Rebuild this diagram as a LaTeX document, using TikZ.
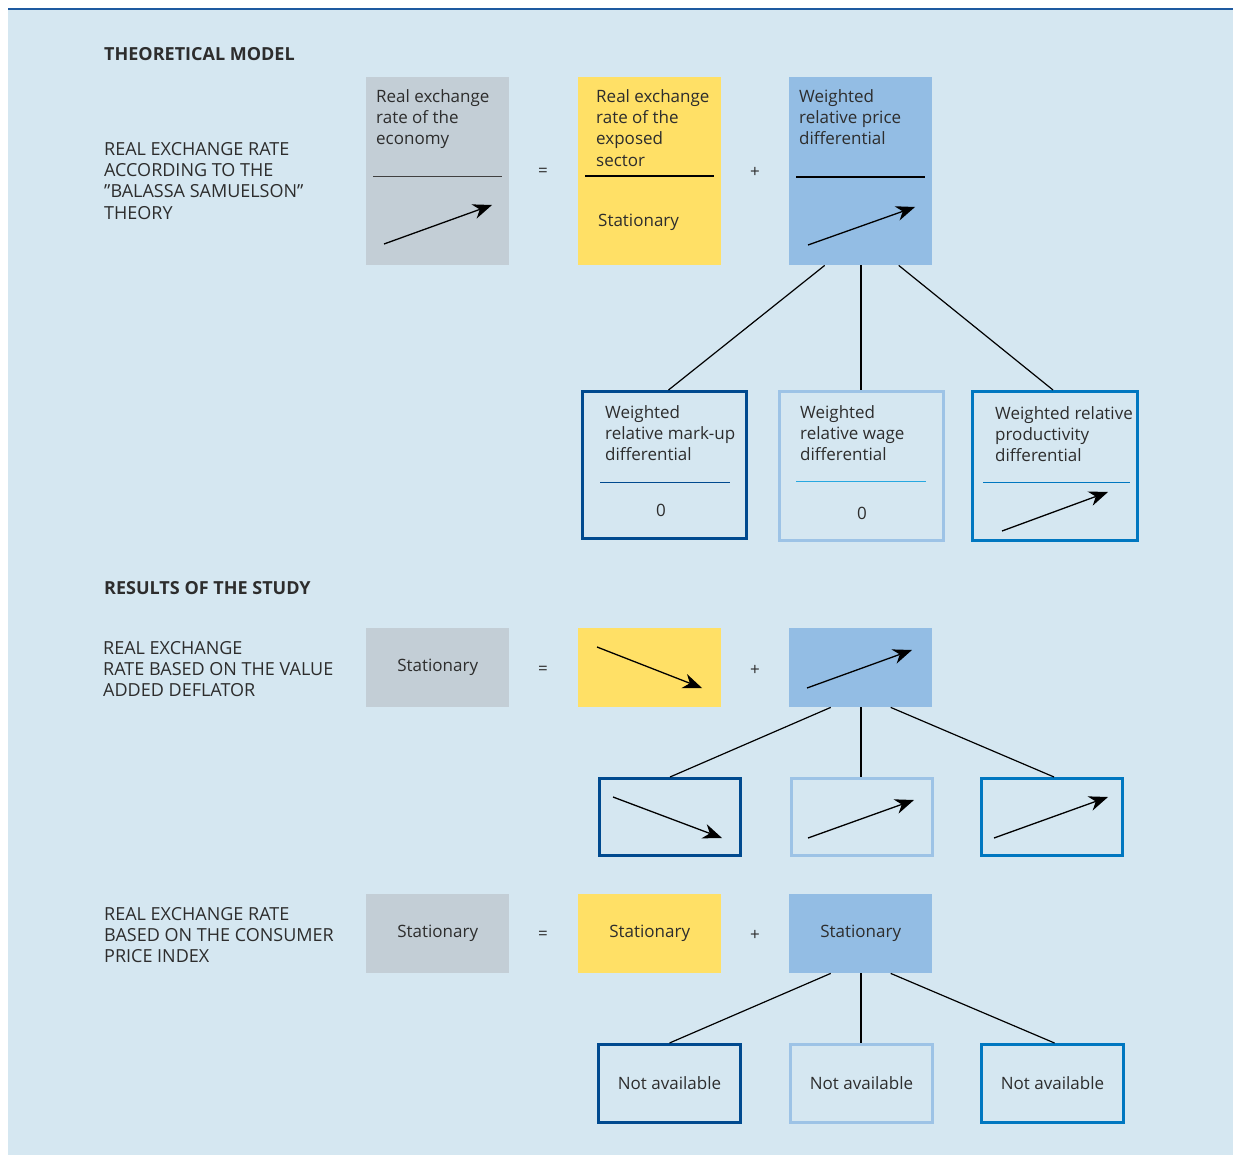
\documentclass[tikz,border=0pt]{standalone}
\usepackage{fontspec}
\setmainfont{Open Sans}
\usetikzlibrary{arrows.meta,calc}
\definecolor{panel}{HTML}{D5E7F1}
\definecolor{rulebl}{HTML}{1E5AA0}
\definecolor{grayfill}{HTML}{C3CED6}
\definecolor{yellfill}{HTML}{FFE066}
\definecolor{bluefill}{HTML}{93BDE4}
\definecolor{darkblue}{HTML}{004A8F}
\definecolor{lightblue}{HTML}{9DC3E6}
\definecolor{midblue}{HTML}{0077C0}
\definecolor{cyanblue}{HTML}{27A8E0}
\definecolor{ink}{HTML}{2D2D2D}
\tikzset{
  every node/.style={text=ink, font=\fontsize{17}{21.3}\selectfont},
  fillbox/.style={inner sep=0, anchor=north west, minimum width=143},
  graybox/.style={fillbox, fill=grayfill},
  yellbox/.style={fillbox, fill=yellfill},
  bluebox/.style={fillbox, fill=bluefill},
  framebox/.style={draw=#1, inner sep=0, anchor=north west, line width=3pt},
  txt/.style={inner sep=0, anchor=north west, align=left},
  caps/.style={txt, font=\fontsize{18}{21.3}\selectfont},
  heading/.style={txt, font=\fontsize{18}{21.3}\selectfont\bfseries},
  sign/.style={inner sep=0},
  link/.style={draw, line width=1.2pt},
  trend/.style={draw, line width=1.3pt, -{Stealth[length=19pt,width=15pt,inset=6pt]}}
}
\begin{document}
\begin{tikzpicture}[x=1pt,y=-1pt]
\useasboundingbox (0,0) rectangle (1233,1155);
\fill[panel] (8,9) rectangle (1233,1155);
\draw[rulebl, line width=2pt] (8,9) -- (1233,9);

\node[heading] (thead) at (104,47) {THEORETICAL MODEL};
\node[caps] (tlabel) at (104,142) {REAL EXCHANGE RATE\\ACCORDING TO THE\\”BALASSA SAMUELSON”\\THEORY};

\node[graybox, minimum height=188] (tgray) at (366,77) {};
\node[yellbox, minimum height=188] (tyell) at (578,77) {};
\node[bluebox, minimum height=188] (tblue) at (789,77) {};
\node[sign] (teq) at (543,172) {=};
\node[sign] (tplus) at (755,172) {+};
\node[txt] (tgraytxt) at (376,89) {Real exchange\\rate of the\\economy};
\node[txt] (tyelltxt) at (596,89) {Real exchange\\rate of the\\exposed\\sector};
\node[inner sep=0, anchor=west] (tyellstat) at (598,222) {Stationary};
\node[txt] (tbluetxt) at (799,89) {Weighted\\relative price\\differential};
\draw[line width=1pt, black!75] (373,177) -- (502,177);
\draw[line width=1.8pt] (585,176) -- (714,176);
\draw[line width=1.8pt] (796,177) -- (925,177);
\draw[trend] (384,244) -- (492,205);
\draw[trend] (808,245) -- (915,207);

\node[framebox=darkblue, minimum width=164, minimum height=147] (tmark) at (581,390) {};
\node[framebox=lightblue, minimum width=164, minimum height=149] (twage) at (778,390) {};
\node[framebox=midblue, minimum width=165, minimum height=149] (tprod) at (971,390) {};
\node[txt] (tmarktxt) at (605,405) {Weighted\\relative mark-up\\differential};
\node[txt] (twagetxt) at (800,405) {Weighted\\relative wage\\differential};
\node[txt] (tprodtxt) at (995,406) {Weighted relative\\productivity\\differential};
\draw[line width=1pt, darkblue] (600,482) -- (730,482);
\draw[line width=1pt, cyanblue] (796,481) -- (926,481);
\draw[line width=1pt, midblue] (983,482) -- (1130,482);
\node[inner sep=0] (tmarkzero) at (661,510) {0};
\node[inner sep=0] (twagezero) at (862,513) {0};
\draw[trend] (1002,531) -- (1108,492);

\path[link] ($(tblue.south)+(-36,0)$) -- ($(tmark.north)+(4,0)$);
\path[link, line width=2pt] (tblue.south) -- (tblue.south |- twage.north);
\path[link] ($(tblue.south)+(38,0)$) -- ($(tprod.north)+(-2,0)$);

\node[heading] (rhead) at (104,581) {RESULTS OF THE STUDY};
\node[caps] (vlabel) at (103,641) {REAL EXCHANGE\\RATE BASED ON THE VALUE\\ADDED DEFLATOR};

\node[graybox, minimum height=79] (vgray) at (366,628) {Stationary};
\node[yellbox, minimum height=79] (vyell) at (578,628) {};
\node[bluebox, minimum height=79] (vblue) at (789,628) {};
\node[sign] (veq) at (543,670) {=};
\node[sign] (vplus) at (755,670) {+};
\draw[trend] (597,647) -- (702,688);
\draw[trend] (807,688) -- (912,650);

\node[framebox=darkblue, minimum width=141, minimum height=77] (vmark) at (598,777) {};
\node[framebox=lightblue, minimum width=141, minimum height=77] (vwage) at (790,777) {};
\node[framebox=midblue, minimum width=141, minimum height=77] (vprod) at (980,777) {};
\draw[trend] (613,797) -- (722,838);
\draw[trend] (808,838) -- (914,800);
\draw[trend] (994,838) -- (1108,797);

\path[link] ($(vblue.south)+(-30,0)$) -- (vmark.north);
\path[link, line width=2pt] (vblue.south) -- (vblue.south |- vwage.north);
\path[link] ($(vblue.south)+(30,0)$) -- ($(vprod.north)+(2,0)$);

\node[caps] (clabel) at (104,907) {REAL EXCHANGE RATE\\BASED ON THE CONSUMER\\PRICE INDEX};

\node[graybox, minimum height=79] (cgray) at (366,894) {Stationary};
\node[yellbox, minimum height=79] (cyell) at (578,894) {Stationary};
\node[bluebox, minimum height=79] (cblue) at (789,894) {Stationary};
\node[sign] (ceq) at (543,935) {=};
\node[sign] (cplus) at (755,935) {+};

\node[framebox=darkblue, minimum width=142, minimum height=78] (cmark) at (597,1043) {Not available};
\node[framebox=lightblue, minimum width=142, minimum height=78] (cwage) at (789,1043) {Not available};
\node[framebox=midblue, minimum width=142, minimum height=78] (cprod) at (980,1043) {Not available};

\path[link] ($(cblue.south)+(-30,0)$) -- (cmark.north);
\path[link, line width=2pt] (cblue.south) -- (cblue.south |- cwage.north);
\path[link] ($(cblue.south)+(30,0)$) -- ($(cprod.north)+(2,0)$);
\end{tikzpicture}
\end{document}
